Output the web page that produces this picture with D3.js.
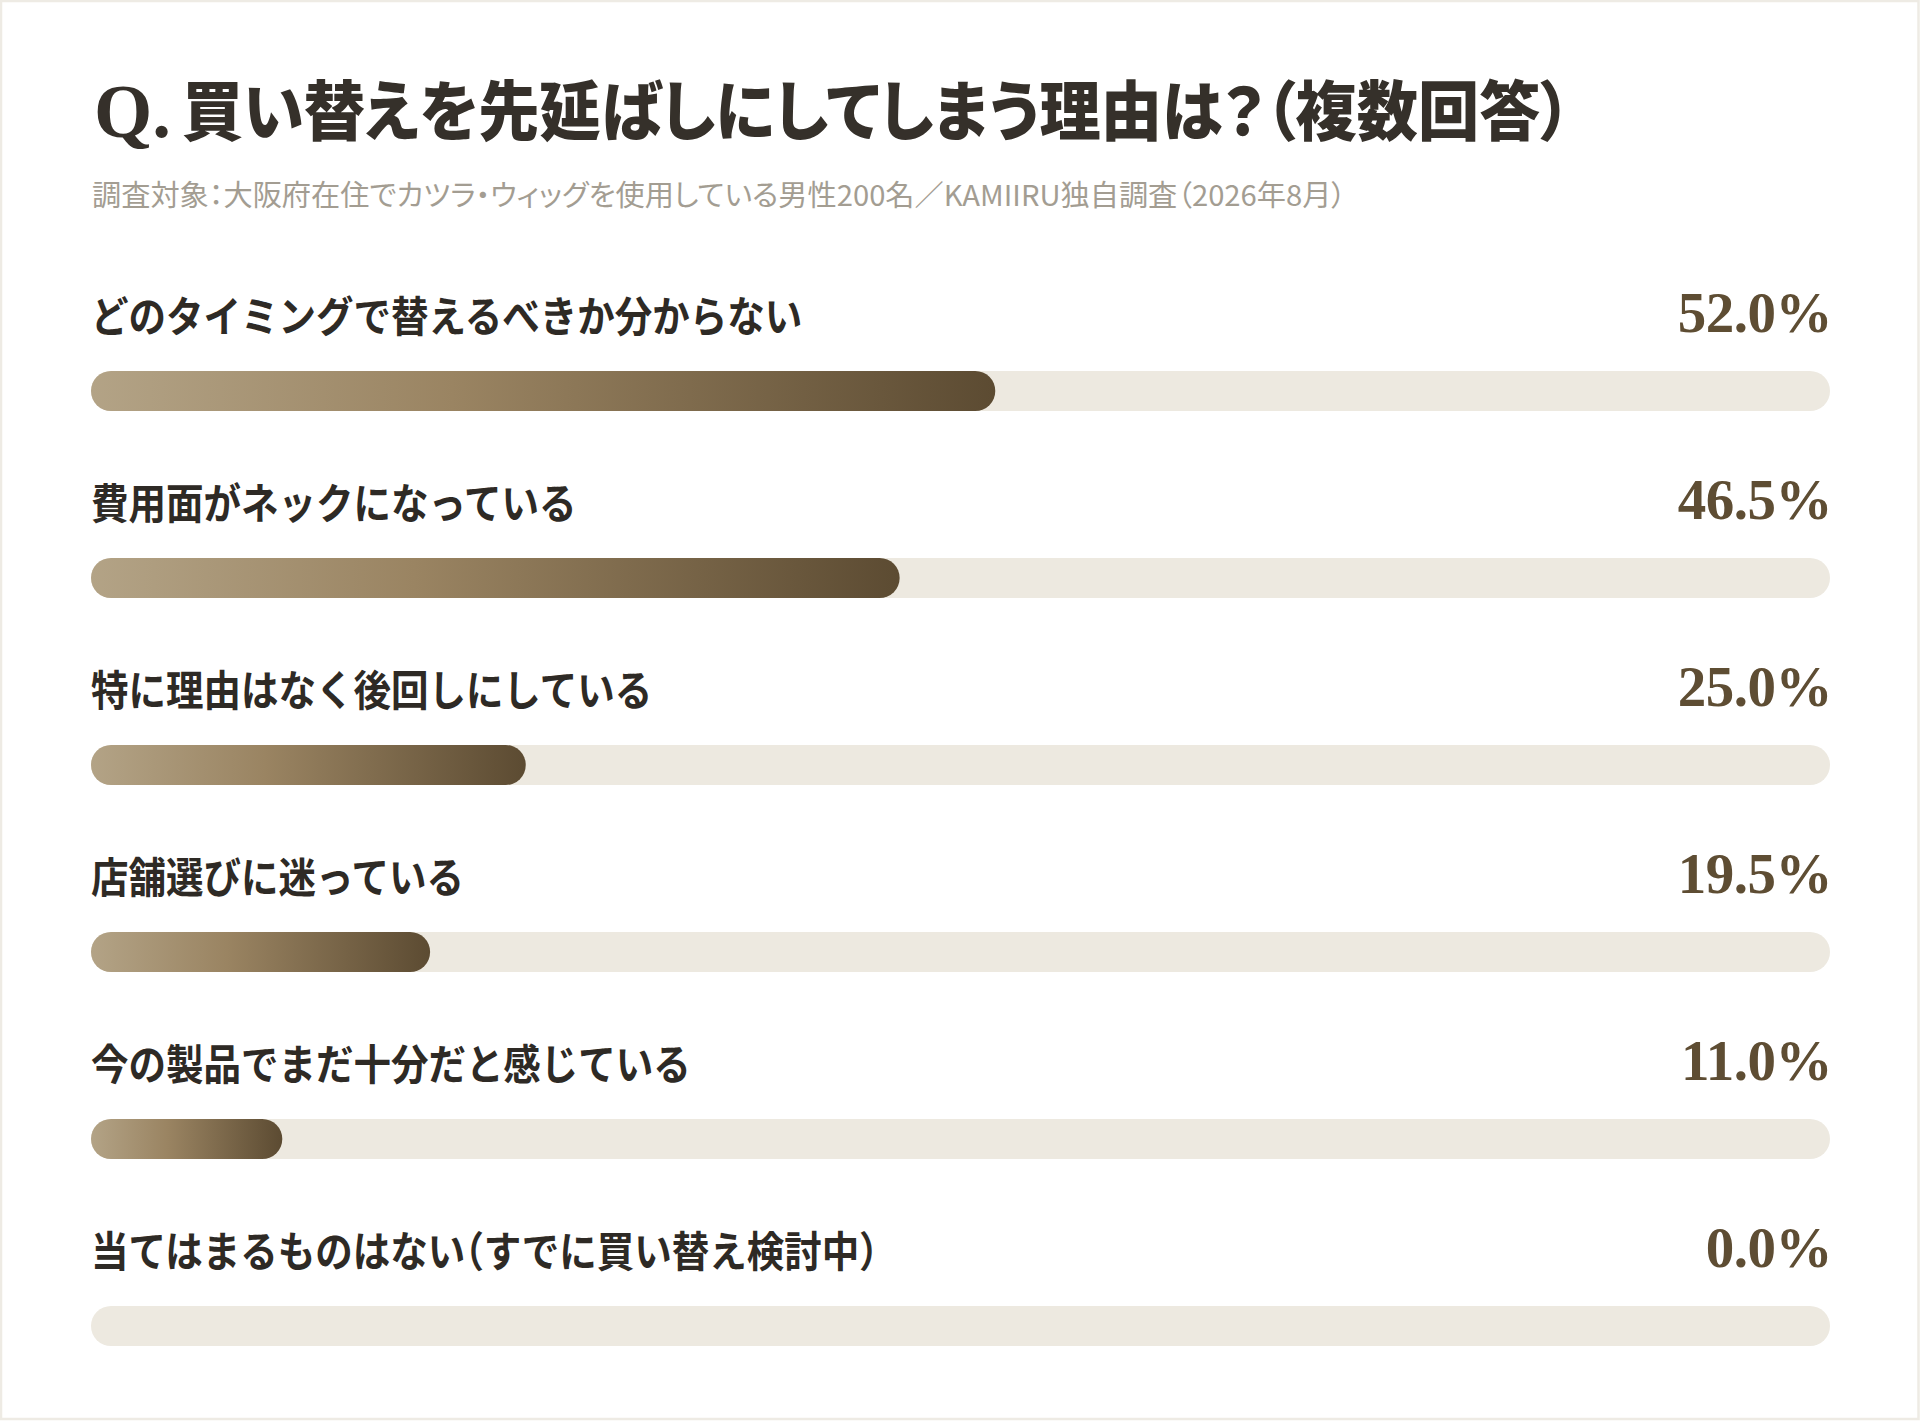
<!DOCTYPE html>
<html><head><meta charset="utf-8">
<script src="https://cdn.jsdelivr.net/npm/d3@7"></script>
<style>html,body{margin:0;padding:0;background:#fff;}svg{display:block;}</style>
</head><body>
<script>
const titlePrefix = "Q.";
const titleText = "買い替えを先延ばしにしてしまう理由は？（複数回答）";
const subtitleText = "調査対象：大阪府在住でカツラ・ウィッグを使用している男性200名／KAMIIRU独自調査（2026年8月）";
const categories = [
  "どのタイミングで替えるべきか分からない",
  "費用面がネックになっている",
  "特に理由はなく後回しにしている",
  "店舗選びに迷っている",
  "今の製品でまだ十分だと感じている",
  "当てはまるものはない（すでに買い替え検討中）"
];
const values = [52.0, 46.5, 25.0, 19.5, 11.0, 0.0];

const W = 1920, H = 1428;
const svg = d3.select("body").append("svg").attr("width", W).attr("height", H);

const defs = svg.append("defs");
const grad = defs.append("linearGradient").attr("id", "barGrad")
  .attr("x1", "0%").attr("x2", "100%").attr("y1", "0%").attr("y2", "0%");
grad.append("stop").attr("offset", "0%").attr("stop-color", "#b3a386");
grad.append("stop").attr("offset", "40%").attr("stop-color", "#9a8462");
grad.append("stop").attr("offset", "100%").attr("stop-color", "#5c4b32");

svg.append("rect").attr("x", 1).attr("y", 1).attr("width", 1917.5).attr("height", 1418)
  .attr("fill", "#fff").attr("stroke", "#eeebe4").attr("stroke-width", 2.5);

const sansJP = "'Noto Sans CJK JP', 'Noto Sans', sans-serif";

svg.append("text").attr("x", 94).attr("y", 137)
  .attr("font-family", "'Liberation Serif', serif").attr("font-weight", 700).attr("font-size", 76)
  .attr("textLength", 77).attr("lengthAdjust", "spacingAndGlyphs")
  .attr("fill", "#35302a").text(titlePrefix);

svg.append("text").attr("x", 182).attr("y", 135)
  .attr("font-family", sansJP).attr("font-weight", 900).attr("font-size", 65)
  .style("font-feature-settings", "'palt'")
  .attr("textLength", 1389).attr("lengthAdjust", "spacingAndGlyphs")
  .attr("fill", "#35302a").text(titleText);

svg.append("text").attr("x", 92).attr("y", 206)
  .attr("font-family", sansJP).attr("font-weight", 400).attr("font-size", 29)
  .style("font-feature-settings", "'palt'")
  .attr("textLength", 1254).attr("lengthAdjust", "spacingAndGlyphs")
  .attr("fill", "#a39d92").text(subtitleText);

const x = d3.scaleLinear().domain([0, 100]).range([91, 1830]);
const y = d3.scalePoint().domain(categories).range([371, 371 + 5 * 187]);
const barH = 40;
const labelScale = 0.893;

const rows = svg.append("g").selectAll("g").data(categories).join("g")
  .attr("transform", d => `translate(0,${y(d)})`);

rows.append("text")
  .attr("transform", `translate(${x(0)},-39) scale(${labelScale},1)`)
  .attr("font-family", sansJP).attr("font-weight", 700).attr("font-size", 42)
  .style("font-feature-settings", "'halt'")
  .attr("fill", "#2e2a25").text(d => d);

rows.append("text").attr("x", x(100) + 2).attr("y", -39).attr("text-anchor", "end")
  .attr("font-family", "'Liberation Serif', serif").attr("font-weight", 700).attr("font-size", 57)
  .attr("letter-spacing", -0.5)
  .attr("fill", "#5e4d33").text((d, i) => values[i].toFixed(1) + "%");

rows.append("rect").attr("x", x(0)).attr("y", 0)
  .attr("width", x(100) - x(0)).attr("height", barH)
  .attr("rx", barH / 2).attr("fill", "#ede9e0");

rows.filter((d, i) => values[i] > 0).append("rect").attr("x", x(0)).attr("y", 0)
  .attr("width", (d, i) => x(values[i]) - x(0)).attr("height", barH)
  .attr("rx", barH / 2).attr("fill", "url(#barGrad)");
</script>
</body></html>
